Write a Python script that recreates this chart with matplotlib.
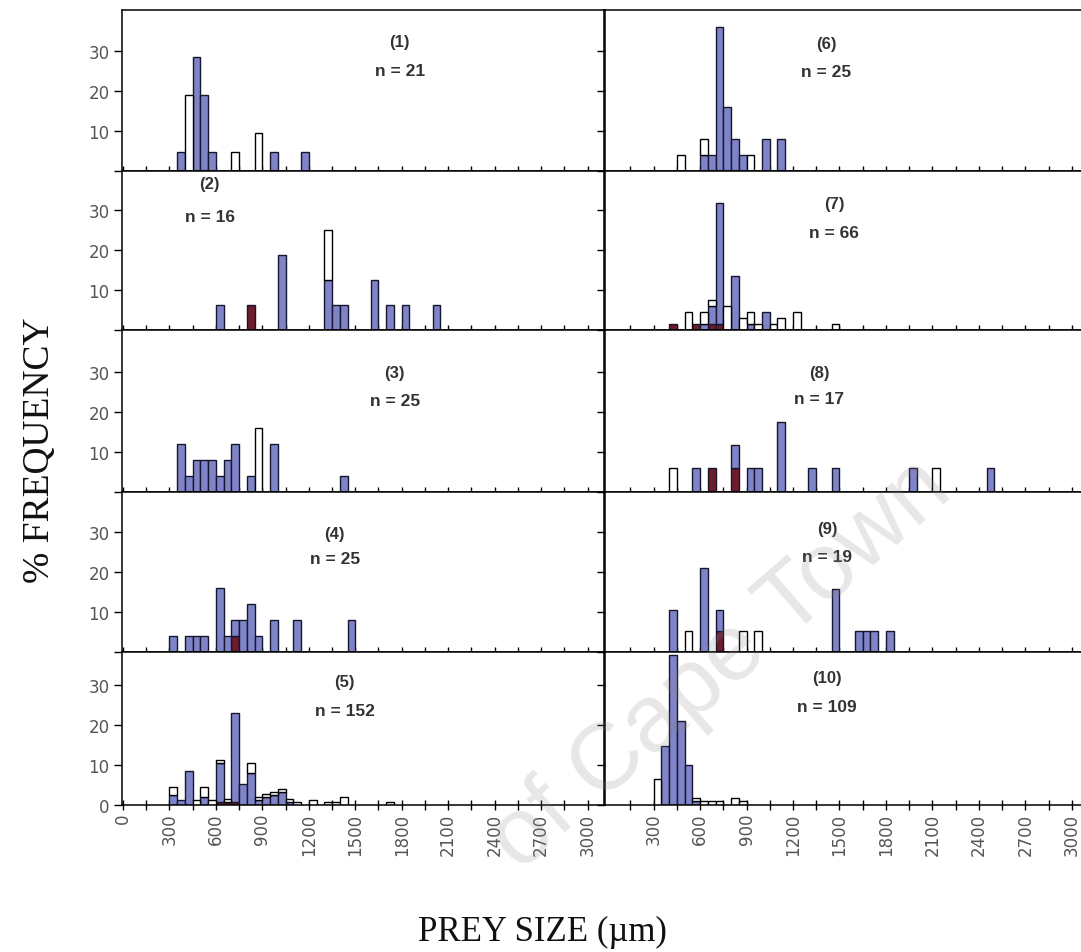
import matplotlib
matplotlib.use('Agg')
import matplotlib.pyplot as plt
import numpy as np

# bin centres (um) and stacked % frequency per prey category for each site
size_1 = [375, 425, 475, 525, 575, 725, 875, 975, 1175]
red_1 = [0, 0, 0, 0, 0, 0, 0, 0, 0]
blue_1 = [4.8, 0, 28.6, 19.0, 4.8, 0, 0, 4.8, 4.8]
open_1 = [0, 19.0, 0, 0, 0, 4.8, 9.5, 0, 0]

size_2 = [625, 825, 1025, 1325, 1375, 1425, 1625, 1725, 1825, 2025]
red_2 = [0, 6.25, 0, 0, 0, 0, 0, 0, 0, 0]
blue_2 = [6.25, 0, 18.75, 12.5, 6.25, 6.25, 12.5, 6.25, 6.25, 6.25]
open_2 = [0, 0, 0, 12.5, 0, 0, 0, 0, 0, 0]

size_3 = [375, 425, 475, 525, 575, 625, 675, 725, 825, 875, 975, 1425]
red_3 = [0, 0, 0, 0, 0, 0, 0, 0, 0, 0, 0, 0]
blue_3 = [12, 4, 8, 8, 8, 4, 8, 12, 4, 0, 12, 4]
open_3 = [0, 0, 0, 0, 0, 0, 0, 0, 0, 16, 0, 0]

size_4 = [325, 425, 475, 525, 625, 675, 725, 775, 825, 875, 975, 1125, 1475]
red_4 = [0, 0, 0, 0, 0, 0, 4, 0, 0, 0, 0, 0, 0]
blue_4 = [4, 4, 4, 4, 16, 4, 4, 8, 12, 4, 8, 8, 8]
open_4 = [0, 0, 0, 0, 0, 0, 0, 0, 0, 0, 0, 0, 0]

size_5 = [325, 375, 425, 475, 525, 575, 625, 675, 725, 775, 825, 875, 925,
          975, 1025, 1075, 1125, 1225, 1325, 1375, 1425, 1725]
red_5 = [0, 0, 0, 0, 0, 0, 0.7, 0.7, 0.7, 0, 0, 0, 0,
         0, 0, 0, 0, 0, 0, 0, 0, 0]
blue_5 = [2.6, 1.3, 8.6, 0, 2.0, 0, 9.9, 0, 22.4, 5.3, 7.9, 1.3, 2.0,
          2.6, 3.3, 0.7, 0, 0, 0, 0, 0, 0]
open_5 = [2.0, 0, 0, 1.3, 2.6, 1.3, 0.7, 0.7, 0, 0, 2.6, 0.7, 0.7,
          0.7, 0.7, 0.7, 0.7, 1.3, 0.7, 0.7, 2.0, 0.7]

size_6 = [475, 625, 675, 725, 775, 825, 875, 925, 1025, 1125]
red_6 = [0, 0, 0, 0, 0, 0, 0, 0, 0, 0]
blue_6 = [0, 4, 4, 36, 16, 8, 4, 0, 8, 8]
open_6 = [4, 4, 0, 0, 0, 0, 0, 4, 0, 0]

size_7 = [425, 525, 575, 625, 675, 725, 775, 825, 875, 925, 975, 1025,
          1075, 1125, 1225, 1475]
red_7 = [1.5, 0, 1.5, 0, 1.5, 1.5, 0, 0, 0, 0, 0, 0, 0, 0, 0, 0]
blue_7 = [0, 0, 0, 1.5, 4.5, 30.3, 0, 13.6, 0, 1.5, 0, 4.5, 0, 0, 0, 0]
open_7 = [0, 4.5, 0, 3.0, 1.5, 0, 6.1, 0, 3.0, 3.0, 1.5, 0, 1.5, 3.0, 4.5, 1.5]

size_8 = [425, 575, 675, 825, 925, 975, 1125, 1325, 1475, 1975, 2125, 2475]
red_8 = [0, 0, 5.9, 5.9, 0, 0, 0, 0, 0, 0, 0, 0]
blue_8 = [0, 5.9, 0, 5.9, 5.9, 5.9, 17.6, 5.9, 5.9, 5.9, 0, 5.9]
open_8 = [5.9, 0, 0, 0, 0, 0, 0, 0, 0, 0, 5.9, 0]

size_9 = [425, 525, 625, 725, 875, 975, 1475, 1625, 1675, 1725, 1825]
red_9 = [0, 0, 0, 5.3, 0, 0, 0, 0, 0, 0, 0]
blue_9 = [10.5, 0, 21.1, 5.3, 0, 0, 15.8, 5.3, 5.3, 5.3, 5.3]
open_9 = [0, 5.3, 0, 0, 5.3, 5.3, 0, 0, 0, 0, 0]

size_10 = [325, 375, 425, 475, 525, 575, 625, 675, 725, 825, 875]
red_10 = [0, 0, 0, 0, 0, 0, 0, 0, 0, 0, 0]
blue_10 = [0, 14.7, 37.6, 21.1, 10.1, 0.9, 0, 0, 0, 0, 0]
open_10 = [6.4, 0, 0, 0, 0, 0.9, 0.9, 0.9, 0.9, 1.8, 0.9]

panel_ids = ['(1)', '(2)', '(3)', '(4)', '(5)', '(6)', '(7)', '(8)', '(9)', '(10)']
panel_n = [21, 16, 25, 25, 152, 25, 66, 17, 19, 109]

panels = [
    (size_1, red_1, blue_1, open_1), (size_2, red_2, blue_2, open_2),
    (size_3, red_3, blue_3, open_3), (size_4, red_4, blue_4, open_4),
    (size_5, red_5, blue_5, open_5), (size_6, red_6, blue_6, open_6),
    (size_7, red_7, blue_7, open_7), (size_8, red_8, blue_8, open_8),
    (size_9, red_9, blue_9, open_9), (size_10, red_10, blue_10, open_10),
]

# label positions (x in um, y in %) for "(k)" and "n = .."
lab_x = [1787, 561, 1755, 1368, 1432, 1413, 1465, 1368, 1419, 1419]
lab_y1 = [32.3, 36.5, 29.8, 29.5, 30.8, 31.8, 31.5, 29.8, 30.8, 31.8]
lab_y2 = [25.0, 28.3, 23.0, 23.5, 23.5, 24.8, 24.5, 23.3, 23.8, 24.5]

# layout in pixels
W, H = 1081, 953
row_top = [11, 172, 331, 493, 653]
row_bot = [172, 331, 493, 653, 806]
col_left = [122, 605]
col_w = 482
xlims = [(-5, 3105), (-13, 3097)]

BLUE = '#7f84c8'
RED = '#6e1c2c'
EDGE = '#15152e'

fig = plt.figure(figsize=(W / 100, H / 100), dpi=100)

for i, (sz, rd, bl, op) in enumerate(panels):
    col = i // 5
    row = i % 5
    top, bot = row_top[row], row_bot[row]
    ax = fig.add_axes([col_left[col] / W, (H - bot) / H, col_w / W, (bot - top) / H])
    sz = np.array(sz, float)
    rd = np.array(rd, float)
    bl = np.array(bl, float)
    op = np.array(op, float)
    ax.bar(sz, rd, width=50, color=RED, edgecolor=EDGE, linewidth=1.0, zorder=2)
    ax.bar(sz, bl, width=50, bottom=rd, color=BLUE, edgecolor=EDGE, linewidth=1.0, zorder=2)
    ax.bar(sz, op, width=50, bottom=rd + bl, color='white', edgecolor='black', linewidth=1.0, zorder=2)
    # hide zero-height stubs
    for c in ax.containers:
        for p in c.patches:
            if p.get_height() <= 0:
                p.set_visible(False)

    ax.set_xlim(*xlims[col])
    ax.set_ylim(0, (bot - top) / 4.0)

    ax.set_xticks(np.arange(0, 3001, 300) if col == 0 else np.arange(300, 3001, 300))
    ax.set_xticks(np.arange(150, 3001, 300), minor=True)
    ax.tick_params(axis='x', which='both', direction='inout', length=7, width=1,
                   colors='black', labelcolor='#555555', labelsize=12, pad=2)
    if row == 4:
        ax.set_xticklabels([str(v) for v in ax.get_xticks()], rotation=90,
                           family='DejaVu Sans')
    else:
        ax.set_xticklabels([])

    ax.set_yticks([0, 10, 20, 30])
    ax.tick_params(axis='y', direction='out', length=6, width=1,
                   labelcolor='#555555', labelsize=12, pad=3)
    if col == 0:
        ax.set_yticklabels(['0' if row == 4 else '', '10', '20', '30'])
    else:
        ax.set_yticklabels([])

    for s in ax.spines.values():
        s.set_linewidth(1.1)
        s.set_color('black')

    ax.text(lab_x[i], lab_y1[i], panel_ids[i], ha='center', va='center',
            fontsize=12, fontweight='bold', color='#333333', family='Liberation Sans')
    ax.text(lab_x[i], lab_y2[i], 'n = %d' % panel_n[i], ha='center', va='center',
            fontsize=12.5, fontweight='bold', color='#333333', family='Liberation Sans')

fig.text(40 / W, 1 - 450 / H, '% FREQUENCY', rotation=90, ha='center', va='center',
         fontsize=27, family='Liberation Serif', color='#111111')
fig.text(542 / W, 1 - 932 / H, 'PREY SIZE (\u00b5m)', ha='center', va='center',
         fontsize=25, family='Liberation Serif', color='#111111')

# faint diagonal watermark of the source (visible part only)
fig.text(955 / W, 1 - 495 / H, 'of Cape Town', rotation=41,
         rotation_mode='anchor', ha='right', va='baseline', fontsize=68,
         family='Liberation Sans', color='#888888', alpha=0.2, zorder=10)

fig.savefig('out.png', dpi=100)
